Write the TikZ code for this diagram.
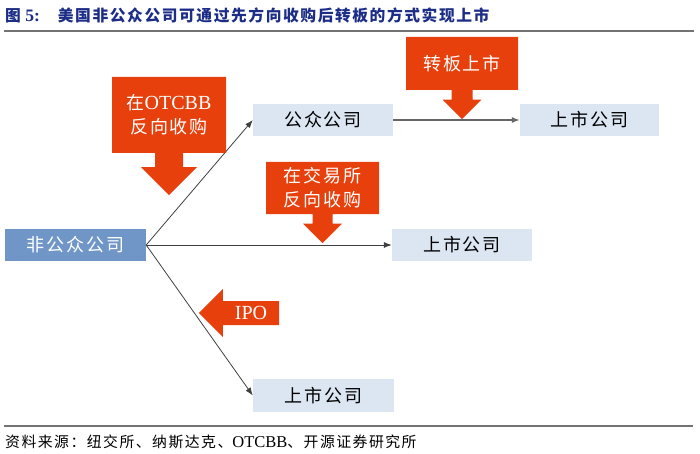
\documentclass[tikz,border=0pt]{standalone}
\usepackage{fontspec}
\setmainfont{Liberation Serif}
\newfontfamily\cjk[Scale=0.9,LetterSpace=10]{Noto Sans CJK SC}
\newcommand{\zh}[1]{{\cjk #1}}
\usetikzlibrary{arrows.meta,shapes.arrows}
\definecolor{kyTitle}{RGB}{28,45,135}
\definecolor{kyRed}{RGB}{232,64,13}
\definecolor{kyBlue}{RGB}{112,150,200}
\definecolor{kyPale}{RGB}{220,230,242}

\begin{document}
\begin{tikzpicture}[x=1pt, y=-1pt,
  every node/.style={align=center, inner sep=0pt},
  firm/.style={rectangle, fill=kyPale, minimum width=140pt, minimum height=32pt, font=\fontsize{20}{24}\selectfont},
  tag/.style={arrow box, fill=kyRed, text=white, font=\fontsize{20}{24}\selectfont},
  link/.style={-{Latex[length=8pt,width=6pt]}, draw=black!75, line width=0.8pt},
  rule/.style={draw=black!55, line width=1.6pt}]
\useasboundingbox (0,0) rectangle (700,454);

% Title and source
\node[anchor=west, text=kyTitle, font=\fontsize{17.5}{20}\selectfont\bfseries] (title) at (5,15)
  {\zh{图} 5:\hspace{18pt}\zh{美国非公众公司可通过先方向收购后转板的方式实现上市}};
\draw[rule] (4,31) -- (694,31);
\draw[rule] (4,426) -- (693,426);
\node[anchor=west, font=\fontsize{16.5}{19}\selectfont] (source) at (5,442)
  {\zh{资料来源：纽交所、纳斯达克、}OTCBB\zh{、开源证券研究所}};

% Companies
\node[firm, fill=kyBlue, text=white, minimum width=141pt] (priv) at (75.5,245) {\zh{非公众公司}};
\node[firm] (pub) at (323,120) {\zh{公众公司}};
\node[firm, minimum width=139pt] (lstA) at (589.5,120) {\zh{上市公司}};
\node[firm] (lstB) at (462,245) {\zh{上市公司}};
\node[firm, minimum width=141pt, minimum height=33pt] (lstC) at (323.5,395.5) {\zh{上市公司}};

% Routes
\draw[link] (priv.east) -- (pub.west);
\draw[link] (priv.east) -- (lstB.west);
\draw[link] (priv.east) -- (lstC.west);
\draw[link, draw=black!60, line width=1.2pt] (pub.east) -- (lstA.west);

% Red callout arrows
\node[tag, minimum width=114pt, minimum height=76pt, arrow box arrows={south:42pt from border},
  arrow box shaft width=28pt, arrow box head extend=14pt] (otc) at (169,115) {\zh{在}OTCBB\\\zh{反向收购}};
\node[tag, minimum width=113pt, minimum height=52pt, arrow box arrows={south:29pt from border},
  arrow box shaft width=20pt, arrow box head extend=9.5pt] (exch) at (322.5,188) {\zh{在交易所}\\\zh{反向收购}};
\node[tag, minimum width=112pt, minimum height=53pt, arrow box arrows={south:29pt from border},
  arrow box shaft width=21pt, arrow box head extend=9pt] (uplist) at (462,63.5) {\zh{转板上市}};
\node[tag, minimum width=56pt, minimum height=24pt, arrow box arrows={west:24pt from border},
  arrow box shaft width=24pt, arrow box head extend=12pt] (ipo) at (251,313) {IPO};
\end{tikzpicture}
\end{document}
